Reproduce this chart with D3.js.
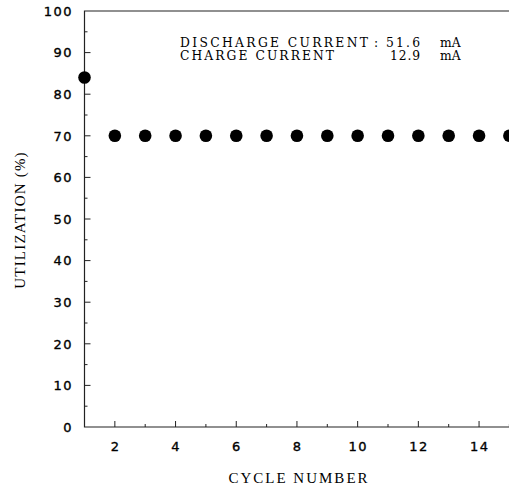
<!DOCTYPE html>
<html>
<head>
<meta charset="utf-8">
<script src="https://cdn.jsdelivr.net/npm/d3@7"></script>
<style>
body{margin:0;background:#fff}
</style>
</head>
<body>
<svg id="main_svg" width="509" height="492"></svg>
<script>
// data
const cycles = [1,2,3,4,5,6,7,8,9,10,11,12,13,14,15]
const utilization = [84,70,70,70,70,70,70,70,70,70,70,70,70,70,70]
const x_ticks = [2,4,6,8,10,12,14]
const y_ticks = [0,10,20,30,40,50,60,70,80,90,100]
const note_names = ["DISCHARGE CURRENT", "CHARGE CURRENT"]
const note_values = ["51.6", "12.9"]

const svg = d3.select("#main_svg")
const plot_left = 84.5, plot_top = 11, plot_bottom = 427

const x = d3.scaleLinear().domain([1,15]).range([plot_left, plot_left+30.35*14])
const y = d3.scaleLinear().domain([0,100]).range([plot_bottom, plot_top])

// frame: left, bottom, top
svg.append("path")
    .attr("d", "M"+x(15)+","+y(100)+"H"+plot_left+"V"+plot_bottom+"H"+x(15))
    .attr("fill","none").attr("stroke","#222").attr("stroke-width",1.2)

// x ticks, inward
svg.selectAll(".xt").data(d3.range(2,16)).enter().append("line")
    .attr("x1", d=>x(d)).attr("x2", d=>x(d))
    .attr("y1", plot_bottom).attr("y2", d=> d%2==0 ? plot_bottom-6 : plot_bottom-3)
    .attr("stroke","#222")
svg.selectAll(".xl").data(x_ticks).enter().append("text")
    .attr("x", d=>x(d)+0.7).attr("y", 451)
    .attr("text-anchor","middle")
    .attr("font-family","DejaVu Sans").attr("font-size",13)
    .attr("letter-spacing",1.5)
    .attr("stroke","#000").attr("stroke-width",0.35)
    .text(d=>d)

// y ticks, inward
svg.selectAll(".yt").data(y_ticks.slice(1,10)).enter().append("line")
    .attr("x1", plot_left).attr("x2", plot_left+6)
    .attr("y1", d=>y(d)).attr("y2", d=>y(d))
    .attr("stroke","#222")
svg.selectAll(".ym").data(d3.range(5,100,10)).enter().append("line")
    .attr("x1", plot_left).attr("x2", plot_left+3)
    .attr("y1", d=>y(d)).attr("y2", d=>y(d))
    .attr("stroke","#222")
svg.selectAll(".yl").data(y_ticks).enter().append("text")
    .attr("x", 73).attr("y", d=>y(d)+4.7)
    .attr("text-anchor","end")
    .attr("font-family","DejaVu Sans").attr("font-size",13)
    .attr("letter-spacing",1.5)
    .attr("stroke","#000").attr("stroke-width",0.35)
    .text(d=>d)

// points
svg.selectAll(".dot").data(cycles).enter().append("circle")
    .attr("cx", (d,i)=>x(d)).attr("cy", (d,i)=>y(utilization[i]))
    .attr("r", 6.3).attr("fill","#000")

// labels
svg.append("text")
    .attr("transform","translate(25,220) rotate(-90)")
    .attr("text-anchor","middle")
    .attr("font-family","Liberation Serif").attr("font-size",15)
    .attr("letter-spacing",1.2)
    .text("UTILIZATION (%)")
svg.append("text")
    .attr("x", 299).attr("y", 483)
    .attr("text-anchor","middle")
    .attr("font-family","Liberation Serif").attr("font-size",15)
    .attr("letter-spacing",2)
    .text("CYCLE NUMBER")

const name_len = [188, 154]
const value_x = [386, 390]
note_names.forEach((n,i)=>{
    const ny = 47+i*13
    svg.append("text").attr("x",180).attr("y",ny)
        .attr("font-family","DejaVu Serif").attr("font-size",12.3)
        .attr("textLength",name_len[i]).attr("lengthAdjust","spacing")
        .text(n)
    if(i==0) svg.append("text").attr("x",374).attr("y",ny)
        .attr("font-family","DejaVu Serif").attr("font-size",12.3)
        .text(":")
    svg.append("text").attr("x",value_x[i]).attr("y",ny)
        .attr("font-family","DejaVu Serif").attr("font-size",12.3)
        .attr("textLength",420-value_x[i]).attr("lengthAdjust","spacing")
        .text(note_values[i])
    svg.append("text").attr("x",440).attr("y",ny)
        .attr("font-family","DejaVu Serif").attr("font-size",12.3)
        .text("mA")
})
</script>
</body>
</html>
